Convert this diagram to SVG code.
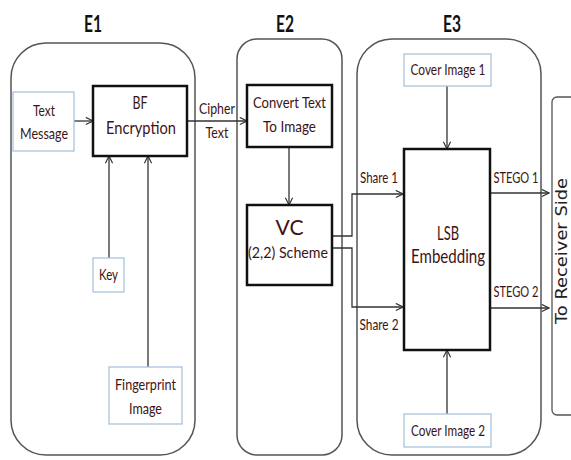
<svg xmlns="http://www.w3.org/2000/svg" width="571" height="460" viewBox="0 0 571 460">
<defs>
<marker id="arr" viewBox="0 0 10 10" refX="9" refY="5" markerWidth="9" markerHeight="9" markerUnits="userSpaceOnUse" orient="auto">
<path d="M1,1 L9,5 L1,9" fill="none" stroke="#333" stroke-width="1.3"/>
</marker>
</defs>
<style>
.grp{fill:none;stroke:#555;stroke-width:1.5}
.inp{fill:#fff;stroke:#a9c4de;stroke-width:1.3}
.proc{fill:#fff;stroke:#111;stroke-width:2.5}
.lbl{font-family:Lato,"DejaVu Sans Condensed","Liberation Sans",sans-serif;fill:#3d1414;text-anchor:middle}
.hd{font-family:Lato,"Liberation Sans",sans-serif;font-weight:bold;font-size:22px;fill:#111;text-anchor:middle}
.con{fill:none;stroke:#333;stroke-width:1.3}
</style>
<rect width="571" height="460" fill="#fff"/>
<g id="E1">
<rect class="grp" x="11" y="43" width="184" height="412" rx="35"/>
<text class="hd" x="93" y="32" textLength="18" lengthAdjust="spacingAndGlyphs">E1</text>
</g>
<g id="E2">
<rect class="grp" x="237" y="39" width="105" height="416" rx="20"/>
<text class="hd" x="285" y="32" textLength="18" lengthAdjust="spacingAndGlyphs">E2</text>
</g>
<g id="E3">
<rect class="grp" x="357" y="39" width="184" height="416" rx="35"/>
<text class="hd" x="452" y="32" textLength="18" lengthAdjust="spacingAndGlyphs">E3</text>
</g>
<g id="receiver">
<rect x="552" y="97" width="40" height="318" rx="5" fill="#fff" stroke="#555" stroke-width="1.3"/>
<text x="567" y="251" transform="rotate(-90 567 251)" font-family="'DejaVu Sans', Verdana, sans-serif" font-size="15" fill="#222" text-anchor="middle" textLength="146" lengthAdjust="spacingAndGlyphs">To Receiver Side</text>
</g>
<g id="connectors">
<line class="con" x1="74" y1="121" x2="93" y2="121" marker-end="url(#arr)"/>
<line class="con" x1="187" y1="121" x2="247" y2="121" marker-end="url(#arr)"/>
<line class="con" x1="109" y1="258" x2="109" y2="156" marker-end="url(#arr)"/>
<line class="con" x1="148" y1="367" x2="148" y2="156" marker-end="url(#arr)"/>
<line class="con" x1="289" y1="147" x2="289" y2="205" marker-end="url(#arr)"/>
<polyline class="con" points="333,236 352,236 352,194 403,194" marker-end="url(#arr)"/>
<polyline class="con" points="333,248 352,248 352,307 403,307" marker-end="url(#arr)"/>
<line class="con" x1="447" y1="86" x2="447" y2="149" marker-end="url(#arr)"/>
<line class="con" x1="447" y1="414" x2="447" y2="350" marker-end="url(#arr)"/>
<line class="con" x1="490" y1="193" x2="549" y2="193" marker-end="url(#arr)"/>
<line class="con" x1="490" y1="308" x2="549" y2="308" marker-end="url(#arr)"/>
<text class="lbl" x="217" y="114" font-size="16" textLength="36" lengthAdjust="spacingAndGlyphs">Cipher</text>
<text class="lbl" x="217" y="138" font-size="16" textLength="23" lengthAdjust="spacingAndGlyphs">Text</text>
<text class="lbl" x="379" y="183" font-size="16" textLength="38" lengthAdjust="spacingAndGlyphs">Share 1</text>
<text class="lbl" x="379" y="330" font-size="16" textLength="39" lengthAdjust="spacingAndGlyphs">Share 2</text>
<text class="lbl" x="516" y="183" font-size="16" textLength="45" lengthAdjust="spacingAndGlyphs">STEGO 1</text>
<text class="lbl" x="516" y="297" font-size="16" textLength="45" lengthAdjust="spacingAndGlyphs">STEGO 2</text>
</g>
<g id="text-message">
<rect class="inp" x="13" y="92" width="61" height="59"/>
<text class="lbl" x="44" y="116" font-size="16" textLength="22" lengthAdjust="spacingAndGlyphs">Text</text>
<text class="lbl" x="44" y="139" font-size="16" textLength="48" lengthAdjust="spacingAndGlyphs">Message</text>
</g>
<g id="bf-encryption">
<rect class="proc" x="93" y="86" width="94" height="70"/>
<text class="lbl" x="140" y="109" font-size="18" textLength="15" lengthAdjust="spacingAndGlyphs">BF</text>
<text class="lbl" x="141" y="134" font-size="18" textLength="70" lengthAdjust="spacingAndGlyphs">Encryption</text>
</g>
<g id="key">
<rect class="inp" x="93" y="258" width="31" height="34"/>
<text class="lbl" x="108.5" y="280" font-size="16" textLength="19" lengthAdjust="spacingAndGlyphs">Key</text>
</g>
<g id="fingerprint">
<rect class="inp" x="109" y="367" width="73" height="57"/>
<text class="lbl" x="145.5" y="390" font-size="16" textLength="61" lengthAdjust="spacingAndGlyphs">Fingerprint</text>
<text class="lbl" x="145.5" y="414" font-size="16" textLength="33" lengthAdjust="spacingAndGlyphs">Image</text>
</g>
<g id="convert">
<rect class="proc" x="247" y="85" width="85" height="62"/>
<text class="lbl" x="289.5" y="108" font-size="16" textLength="73" lengthAdjust="spacingAndGlyphs">Convert Text</text>
<text class="lbl" x="289.5" y="132" font-size="16" textLength="53" lengthAdjust="spacingAndGlyphs">To Image</text>
</g>
<g id="vc">
<rect class="proc" x="247" y="205" width="85" height="80"/>
<text class="lbl" x="289.5" y="235" font-size="22" textLength="28" lengthAdjust="spacingAndGlyphs">VC</text>
<text class="lbl" x="288" y="258" font-size="16" textLength="80" lengthAdjust="spacingAndGlyphs">(2,2) Scheme</text>
</g>
<g id="cover1">
<rect class="inp" x="404" y="54" width="87" height="32"/>
<text class="lbl" x="448" y="75" font-size="16" textLength="75" lengthAdjust="spacingAndGlyphs">Cover Image 1</text>
</g>
<g id="lsb">
<rect class="proc" x="404" y="149" width="86" height="201"/>
<text class="lbl" x="448" y="240" font-size="20" textLength="22" lengthAdjust="spacingAndGlyphs">LSB</text>
<text class="lbl" x="448" y="263" font-size="20" textLength="74" lengthAdjust="spacingAndGlyphs">Embedding</text>
</g>
<g id="cover2">
<rect class="inp" x="404" y="414" width="87" height="33"/>
<text class="lbl" x="448" y="436" font-size="16" textLength="74" lengthAdjust="spacingAndGlyphs">Cover Image 2</text>
</g>
</svg>
